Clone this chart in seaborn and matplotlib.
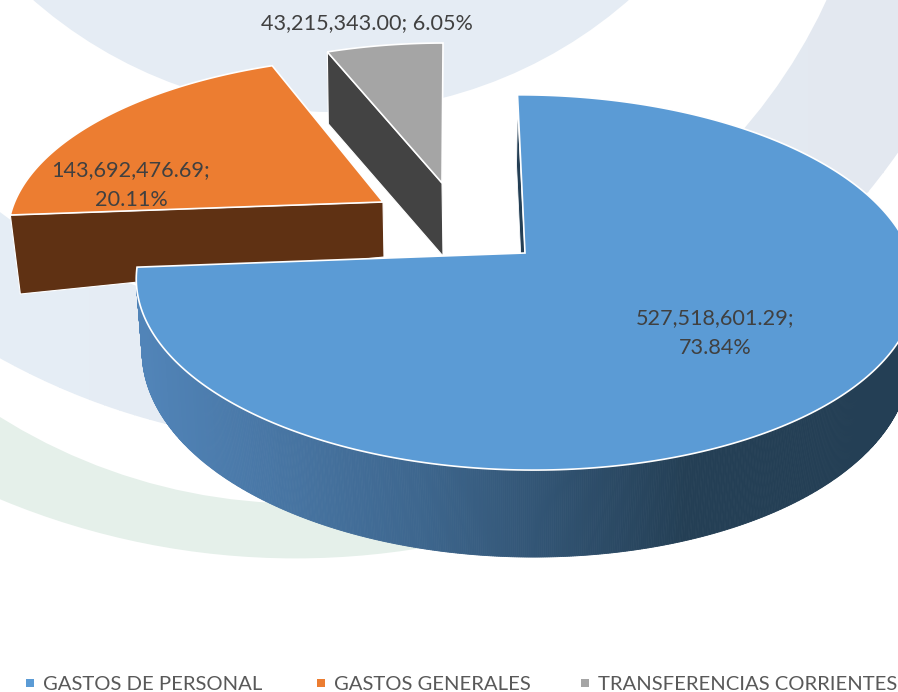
import numpy as np
import matplotlib
matplotlib.use("Agg")
import matplotlib.pyplot as plt
from matplotlib.patches import Circle, Polygon, Rectangle
import seaborn as sns

categories = ["GASTOS DE PERSONAL", "GASTOS GENERALES", "TRANSFERENCIAS CORRIENTES"]
values = [527518601.29, 143692476.69, 43215343.00]

top_colors = ["#5b9bd5", "#ec7d31", "#a5a5a5"]
wall_colors = [None, "#5f3113", "#434343"]
gradient = sns.blend_palette(["#5184b8", "#3e678f", "#243f55"], 200)

sns.set_theme(style="white")
plt.rcParams["font.family"] = ["Lato", "DejaVu Sans"]

fig = plt.figure(figsize=(8.98, 6.92), dpi=100)
ax = fig.add_axes([0, 0, 1, 1])
ax.set_xlim(0, 898)
ax.set_ylim(692, 0)
ax.axis("off")

# ---- background bands
clip = Rectangle((0, 0), 520, 692, transform=ax.transData)
for c, r, col in [((295.5, -209.6), 768, "#e5f0ea"), ((301, -63.5), 567, "white")]:
    p = Circle(c, r, fc=col, ec="none", zorder=1)
    ax.add_patch(p)
    p.set_clip_path(clip)

# outer ring blended from pale blue (left) to lavender (right)
ring_c, ring_r = (334.6, -244), 689
ring_in_c, ring_in_r = (327, -230), 550
ring_pal = sns.blend_palette(["#e5edf5", "#e3e8f0"], 60)
edges = np.linspace(0, 898, 61)
for i, col in enumerate(ring_pal):
    p = Circle(ring_c, ring_r, fc=col, ec="none", zorder=2)
    ax.add_patch(p)
    p.set_clip_path(Rectangle((edges[i] - 0.5, 0), edges[i + 1] - edges[i] + 1, 692, transform=ax.transData))
ax.add_patch(Circle(ring_in_c, ring_in_r, fc="white", ec="none", zorder=3))
ax.add_patch(Circle((331, -340), 452, fc="#e5ecf4", ec="none", zorder=4))

# ---- pie geometry
RX, RY, K = 385, 183, 0.157
START = -0.2
layout = [
    dict(apex=(525, 253), scale=1.00, xscale=1.0, skew=0.04, apex_depth=72, outer_depth=72, shrink=0),
    dict(apex=(383, 202), scale=0.92, xscale=1.04, skew=-0.07, apex_depth=55, outer_depth=79, shrink=10),
    dict(apex=(442, 183), scale=0.885, xscale=1.048, skew=-0.015, apex_depth=73, outer_depth=72, shrink=1),
]


def project(theta_deg, lay):
    t = np.radians(theta_deg)
    u, v = np.sin(t), np.cos(t)
    den = 1 + K * v
    dy = -lay["scale"] * RY * v / den
    dx = lay["scale"] * lay["xscale"] * RX * u / den + lay["skew"] * dy
    return lay["apex"][0] + dx, lay["apex"][1] + dy


total = sum(values)
fracs = [v / total for v in values]
angles = START + np.cumsum([0] + [f * 360 for f in fracs])

# draw gray, orange, then blue so the big slice stays in front
for i in [2, 1, 0]:
    lay = layout[i]
    a0, a1 = angles[i], angles[i + 1]
    th = np.linspace(a0, a1, 300)
    xs, ys = project(th, lay)
    ax_, ay_ = lay["apex"]
    z = 10 + (2 - i) * 5
    if i == 0:
        # radial wall (thin sliver on the starting edge)
        ax.add_patch(Polygon([(ax_, ay_), (xs[0], ys[0] + 12), (xs[0] - 1, ys[0] + 70), (ax_ - 1, ay_ + 72)],
                             fc="#243f55", ec="white", lw=0.6, zorder=z))
        # outer curved wall with horizontal gradient
        th2 = np.linspace(90, a1, 700)
        wx, wy = project(th2, lay)
        v2 = np.cos(np.radians(th2))
        bx = ax_ + (wx - ax_) * 0.985
        by = wy + 70 - 17 * v2
        lo, hi = 140, 690
        for j in range(len(th2) - 1):
            f = np.clip((wx[j] - lo) / (hi - lo), 0, 0.999)
            col = gradient[int(f * 200)]
            ax.add_patch(Polygon([(wx[j], wy[j]), (wx[j + 1], wy[j + 1]), (bx[j + 1], by[j + 1]), (bx[j], by[j])],
                                 fc=col, ec=col, lw=0.6, zorder=z))
    else:
        # radial wall on the front-facing edge
        ex, ey = xs[0], ys[0]
        ax.add_patch(Polygon([(ax_, ay_), (ex, ey), (ex + lay["shrink"], ey + lay["outer_depth"]),
                              (ax_ + 1, ay_ + lay["apex_depth"])],
                             fc=wall_colors[i], ec="white", lw=0.8, zorder=z))
    ax.add_patch(Polygon(np.r_[[[ax_, ay_]], np.c_[xs, ys]], closed=True, fc=top_colors[i],
                         ec="white", lw=1.2, joinstyle="miter", zorder=z + 1))

# ---- data labels
TXT = "#404040"
FS = 15.6
label_pos = [(715, 333), (131, 185), (367, 23)]
for i, (x, y) in enumerate(label_pos):
    pct = f"{fracs[i]:.2%}"
    amt = f"{values[i]:,.2f};"
    s = f"{amt} {pct}" if i == 2 else f"{amt}\n{pct}"
    ax.text(x, y, s, ha="center", va="center", fontsize=FS, color=TXT, linespacing=1.65, zorder=40)

# ---- legend
legend_x = [30, 321, 585]
for x, name, col in zip(legend_x, categories, top_colors):
    ax.scatter([x], [683], marker="s", s=26, color=col, lw=0, zorder=40)
    ax.text(x + 13, 684, name, ha="left", va="center", fontsize=14.6, color="#595959", zorder=40)

fig.savefig("out.png", dpi=100)
